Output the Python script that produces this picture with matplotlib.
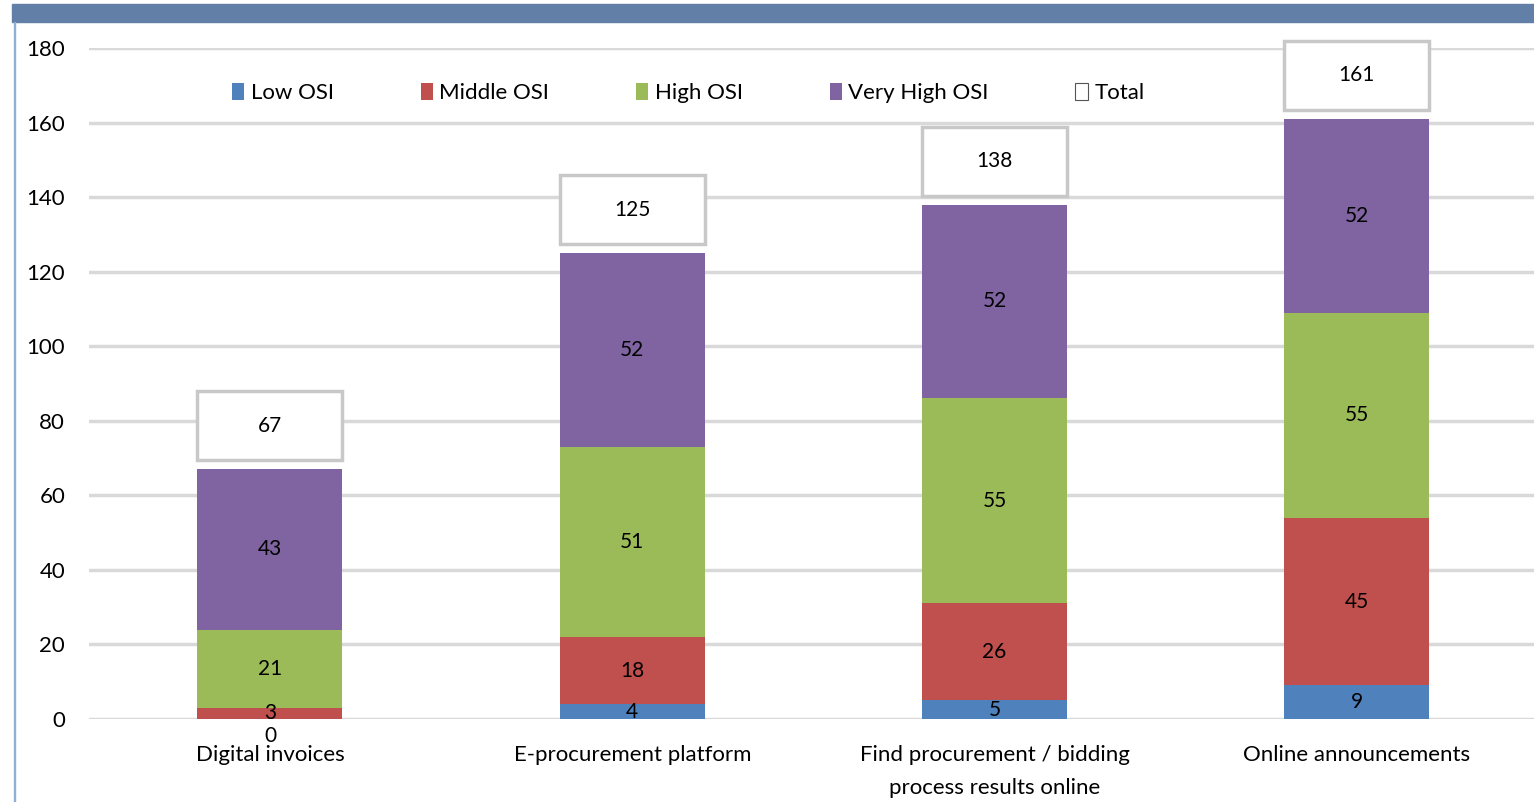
import numpy as np
import matplotlib.pyplot as plt
from matplotlib.patches import Rectangle

plt.rcParams['font.family'] = ['Lato', 'DejaVu Sans']

categories = ['Digital invoices', 'E-procurement platform',
              'Find procurement / bidding\nprocess results online',
              'Online announcements']
low = [0, 4, 5, 9]
middle = [3, 18, 26, 45]
high = [21, 51, 55, 55]
very_high = [43, 52, 52, 52]
totals = [67, 125, 138, 161]

series = [('Low OSI', low, '#4F81BD'),
          ('Middle OSI', middle, '#C0504D'),
          ('High OSI', high, '#9BBB59'),
          ('Very High OSI', very_high, '#8064A2')]

fig = plt.figure(figsize=(15.34, 8.02), dpi=100)
ax = fig.add_axes([88.8 / 1534, 83 / 802, 1449.3 / 1534, 671 / 802])

# header band and left frame line
fig.patches.append(Rectangle((12 / 1534, (802 - 22) / 802), 1, 18 / 802,
                             transform=fig.transFigure, color='#617FA7', zorder=0))
fig.patches.append(Rectangle((13.5 / 1534, 0), 1.6 / 1534, (802 - 22) / 802,
                             transform=fig.transFigure, color='#8EAFD8', zorder=0))

x = np.arange(len(categories))
width = 0.4
bottom = np.zeros(len(categories))
handles = []
for name, vals, color in series:
    vals = np.array(vals)
    b = ax.bar(x, vals, width, bottom=bottom, color=color, label=name, zorder=3)
    handles.append(b)
    for xi, v, b0 in zip(x, vals, bottom):
        if v == 0:
            ax.annotate(str(v), (xi, b0), xytext=(0, -12), textcoords='offset points',
                        ha='center', va='center', fontsize=15, zorder=5)
        else:
            ax.text(xi, b0 + v / 2, str(v), ha='center', va='center',
                    fontsize=15, zorder=5)
    bottom = bottom + vals

# total labels in white boxes above each stack
box_h = 18.5
gap = 2.4
tb = ax.bar(x, [box_h] * len(x), width, bottom=np.array(totals) + gap,
            color='white', edgecolor='#C8C8C8', linewidth=2.5, label='Total',
            zorder=4, clip_on=False)
for xi, t in zip(x, totals):
    ax.text(xi, t + gap + box_h / 2, str(t), ha='center', va='center',
            fontsize=15, zorder=5, clip_on=False)

ax.set_xlim(-0.5, 3.5)
ax.set_ylim(0, 180)
ax.set_yticks(np.arange(0, 181, 20))
ax.set_xticks(x)
ax.set_xticklabels(categories, linespacing=1.8)
ax.tick_params(axis='both', length=0, labelsize=16)
ax.tick_params(axis='y', pad=17)
ax.tick_params(axis='x', pad=19)
ax.yaxis.grid(True, color='#D9D9D9', linewidth=2.5, zorder=0)
ax.set_axisbelow(True)
for s in ax.spines.values():
    s.set_visible(False)

total_handle = Rectangle((0, 0), 1, 1, facecolor='white', edgecolor='#555555', linewidth=0.8)
leg = ax.legend(handles + [total_handle],
                ['Low OSI', 'Middle OSI', 'High OSI', 'Very High OSI', 'Total'],
                loc='upper left', bbox_to_anchor=(212 / 1534, 1 - 63 / 802),
                bbox_transform=fig.transFigure, ncol=5, frameon=False,
                fontsize=16, handlelength=0.55, handleheight=0.8,
                handletextpad=0.3, columnspacing=3.9)

fig.savefig('out.png', dpi=100)
